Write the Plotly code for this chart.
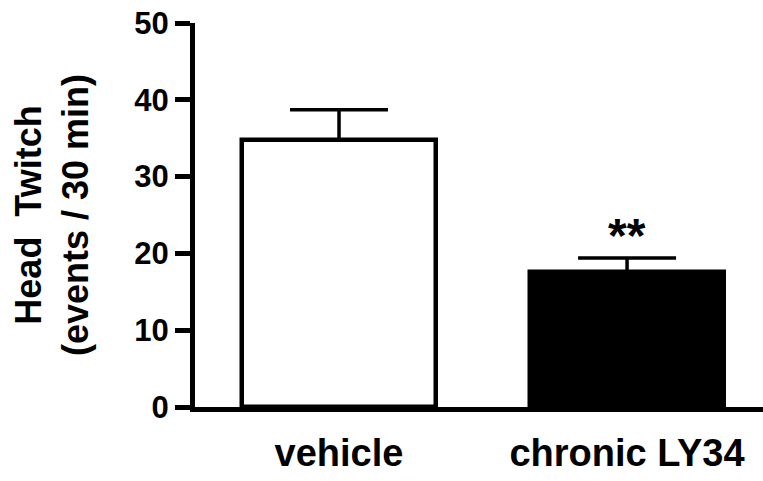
import plotly.graph_objects as go

categories = ["vehicle", "chronic LY34"]
means = [34.8, 17.6]
sem = [3.9, 1.8]
fills = ["white", "black"]
y_ticks = [0, 10, 20, 30, 40, 50]
sig_label = "**"

FONT = "Liberation Sans, Arial, sans-serif"

fig = go.Figure()
fig.add_trace(go.Bar(
    x=[0, 1], y=means,
    width=0.675,
    marker=dict(color=fills, line=dict(color="black", width=4.5)),
    error_y=dict(type="data", array=sem, arrayminus=[0, 0], symmetric=False,
                 color="black", thickness=3.5, width=49),
))

fig.add_annotation(x=1, y=means[1] + sem[1], yshift=23, text=sig_label,
                   showarrow=False, font=dict(family=FONT, size=48, color="black", weight="bold"))

fig.update_layout(
    width=763, height=481,
    margin=dict(l=195, r=0, t=23, b=74),
    paper_bgcolor="white", plot_bgcolor="white",
    showlegend=False,
    font=dict(family=FONT, color="black", weight="bold"),
    bargap=0,
)
fig.update_xaxes(
    range=[-0.5, 1.472], tickmode="array", tickvals=[0, 1], ticktext=categories,
    showline=True, linecolor="black", linewidth=5,
    ticks="outside", ticklen=8, tickcolor="rgba(0,0,0,0)",
    tickfont=dict(family=FONT, size=38, color="black", weight="bold"),
    showgrid=False, zeroline=False,
)
fig.update_yaxes(
    range=[0, 50], tickmode="array", tickvals=y_ticks,
    showline=True, linecolor="black", linewidth=5,
    ticks="outside", ticklen=15, tickwidth=5, tickcolor="black",
    tickfont=dict(family=FONT, size=31, color="black", weight="bold"),
    showgrid=False, zeroline=False,
    title=dict(text="Head  Twitch<br>(events / 30 min)", standoff=36,
               font=dict(family=FONT, size=36, color="black", weight="bold")),
)

fig.write_html("out.html", config={"displayModeBar": False},
               post_script="document.body.style.margin='0';document.body.style.overflow='hidden';")
